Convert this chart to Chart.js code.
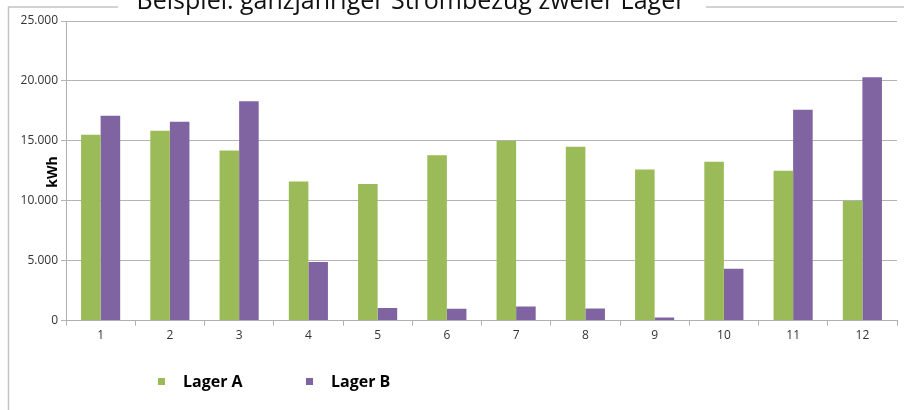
<!DOCTYPE html>
<html>
<head>
<meta charset="utf-8">
<script src="https://cdn.jsdelivr.net/npm/chart.js@4/dist/chart.umd.min.js"></script>
<style>
  html, body { margin: 0; padding: 0; background: #fff; overflow: hidden; }
  canvas { display: block; }
</style>
</head>
<body>
<canvas id="c" width="904" height="410"></canvas>
<script>
// Monthly electricity draw of two warehouses (kWh)
const months = ['1', '2', '3', '4', '5', '6', '7', '8', '9', '10', '11', '12'];
const lagerA = [15500, 15850, 14200, 11600, 11400, 13800, 15000, 14500, 12600, 13250, 12500, 10000];
const lagerB = [17100, 16600, 18300, 4900, 1060, 980, 1170, 1000, 250, 4320, 17600, 20300];
const seriesNames = ['Lager A', 'Lager B'];
const chartTitle = 'Beispiel: ganzjähriger Strombezug zweier Lager';
const axisTitle = 'kWh';

const GREEN = '#9bbb59';
const PURPLE = '#8064a2';
const FONT = '"Open Sans", "DejaVu Sans", sans-serif';

const fmt = new Intl.NumberFormat('de-DE');

// Frame, title, axis title and legend drawn on the canvas around the plot
const decor = {
  id: 'decor',
  beforeDraw(chart) {
    const ctx = chart.ctx;
    ctx.save();
    ctx.fillStyle = '#fff';
    ctx.fillRect(0, 0, chart.width, chart.height);
    ctx.strokeStyle = '#c4c4c4';
    ctx.lineWidth = 1.5;
    ctx.beginPath();
    ctx.moveTo(8.5, 412);
    ctx.lineTo(8.5, 7);
    ctx.lineTo(906, 7);
    ctx.stroke();
    ctx.restore();
  },
  afterDraw(chart) {
    const ctx = chart.ctx;
    ctx.save();
    // title block sits over the top edge of the frame
    ctx.fillStyle = '#fff';
    ctx.fillRect(118, 0, 588, 12);
    ctx.fillStyle = '#111';
    ctx.font = '25px ' + FONT;
    ctx.textAlign = 'center';
    ctx.textBaseline = 'alphabetic';
    ctx.fillText(chartTitle, 411, 9);

    // y axis title
    ctx.save();
    ctx.translate(53, 172);
    ctx.rotate(-Math.PI / 2);
    ctx.font = 'bold 14px ' + FONT;
    ctx.fillStyle = '#000';
    ctx.textAlign = 'center';
    ctx.textBaseline = 'middle';
    ctx.fillText(axisTitle, 0, 0);
    ctx.restore();

    // legend
    const items = [
      { x: 158, tx: 183, color: GREEN, label: seriesNames[0] },
      { x: 306, tx: 331, color: PURPLE, label: seriesNames[1] }
    ];
    ctx.font = 'bold 16px ' + FONT;
    ctx.textAlign = 'left';
    ctx.textBaseline = 'middle';
    items.forEach(it => {
      ctx.fillStyle = it.color;
      ctx.fillRect(it.x, 378, 7, 7);
      ctx.fillStyle = '#000';
      ctx.fillText(it.label, it.tx, 382);
    });
    ctx.restore();
  }
};

new Chart(document.getElementById('c'), {
  type: 'bar',
  data: {
    labels: months,
    datasets: [
      { label: seriesNames[0], data: lagerA, backgroundColor: GREEN, borderWidth: 0 },
      { label: seriesNames[1], data: lagerB, backgroundColor: PURPLE, borderWidth: 0 }
    ]
  },
  options: {
    responsive: false,
    animation: false,
    devicePixelRatio: 1,
    layout: { padding: { left: 0, right: 7, top: 21, bottom: 64 } },
    plugins: {
      legend: { display: false },
      title: { display: false },
      tooltip: { enabled: false }
    },
    datasets: {
      bar: { categoryPercentage: 0.565, barPercentage: 1.0 }
    },
    scales: {
      x: {
        offset: true,
        grid: {
          offset: true,
          drawOnChartArea: false,
          tickLength: 5,
          color: '#b0b0b0'
        },
        border: { color: '#b0b0b0', width: 1 },
        ticks: {
          color: '#333',
          font: { family: FONT, size: 12 },
          padding: 3,
          maxRotation: 0
        }
      },
      y: {
        min: 0,
        max: 25000,
        afterFit(scale) { scale.width = 66; },
        grid: { color: '#b4b4b4', tickLength: 5 },
        border: { color: '#b0b0b0', width: 1 },
        ticks: {
          stepSize: 5000,
          color: '#333',
          font: { family: FONT, size: 12 },
          padding: 3,
          callback: v => fmt.format(v)
        }
      }
    }
  },
  plugins: [decor]
});
</script>
</body>
</html>
